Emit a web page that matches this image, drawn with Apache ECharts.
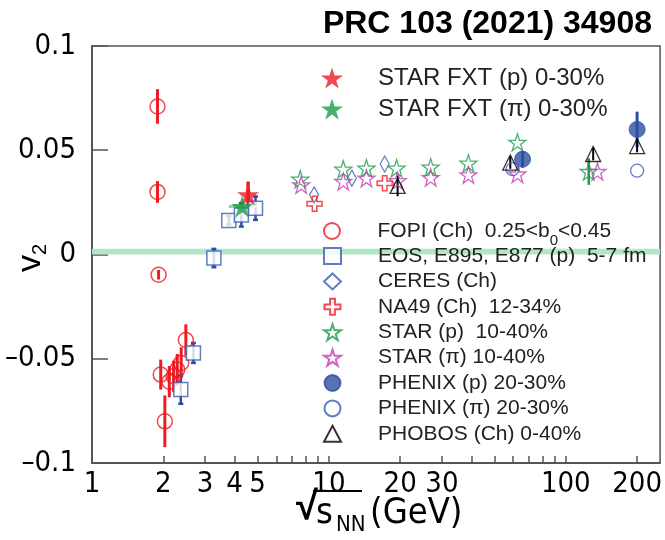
<!DOCTYPE html>
<html><head><meta charset="utf-8">
<script src="https://cdn.jsdelivr.net/npm/echarts@6/dist/echarts.min.js"></script>
<style>html,body{margin:0;padding:0;background:#fff}#c{width:665px;height:540px}</style>
</head><body><div id="c"></div>
<script>
// ---- axis ticks ----
const xTickLabels = [1, 2, 3, 4, 5, 10, 20, 30, 100, 200];
const xTickMarks = [1, 2, 3, 4, 5, 6, 7, 8, 9, 10, 20, 30, 40, 50, 60, 70, 80, 90, 100, 200];
const yTickValues = [-0.1, -0.05, 0, 0.05, 0.1];
const zeroBand = [0, 0.0028];

// ---- data ----
const fopiE   = [1.89, 1.89, 1.91, 1.95, 2.03, 2.12, 2.21, 2.29, 2.38, 2.49];
const fopiV   = [0.071, 0.030, -0.0097, -0.0576, -0.080, -0.061, -0.0584, -0.0552, -0.052, -0.041];
const fopiErr = [0.0083, 0.0052, 0.0023, 0.0072, 0.0124, 0.0075, 0.0075, 0.0075, 0.0075, 0.0075];

const eosE   = [2.37, 2.68, 3.27, 3.78, 4.27, 4.9];
const eosV   = [-0.0648, -0.0472, -0.0017, 0.0163, 0.019, 0.0222];
const eosErr = [0.0068, 0.0048, 0.0044, 0.002, 0.0056, 0.0056];

const ceresE = [8.66, 12.5, 17.2];
const ceresV = [0.0286, 0.0366, 0.0434];

const na49E = [8.7, 17.2];
const na49V = [0.0243, 0.0342];

const starPE   = [7.57, 11.5, 14.4, 19.3, 26.9, 38.8, 62.5, 125];
const starPV   = [0.0361, 0.0409, 0.0414, 0.0414, 0.0419, 0.0438, 0.0538, 0.0398];
const starPErr = [0, 0, 0, 0, 0, 0, 0, 0.0064];

const starPiE = [7.64, 11.5, 14.4, 19.5, 26.9, 38.8, 62.5, 136];
const starPiV = [0.0334, 0.035, 0.0366, 0.0354, 0.0369, 0.0382, 0.0386, 0.0398];

const phenixPE   = [65.7, 200];
const phenixPV   = [0.0457, 0.060];
const phenixPErr = [0.004, 0.0085];

const phenixPiE = [59.6, 200];
const phenixPiV = [0.0409, 0.0402];

const phobosE   = [19.5, 58.3, 130.5, 200];
const phobosV   = [0.0329, 0.0441, 0.0482, 0.052];
const phobosErr = [0.005, 0.003, 0.003, 0.003];

const fxtPE   = [4.56];
const fxtPV   = [0.0286];
const fxtPErr = [0.0064];

const fxtPiE = [4.3];
const fxtPiV = [0.023];
const fxtPiXRange = [3.78, 4.97];

// ---- styling ----
const RED = '#ee1c25', BLUE = '#2d4fa3', GREEN = '#1a9c48', MAG = '#c23cb6', BLACK = '#000';
const NARROW = "'Liberation Sans Narrow', 'DejaVu Sans Condensed', sans-serif";
const SANS = "'Liberation Sans', Arial, sans-serif";
const STAR = 'path://M50,0 L61.2,34.5 L97.6,34.5 L68.2,55.9 L79.4,90.5 L50,69.1 L20.6,90.5 L31.8,55.9 L2.4,34.5 L38.8,34.5 Z';
const PLUS = 'path://M35,0 H65 V35 H100 V65 H65 V100 H35 V65 H0 V35 H35 Z';
const CLEAR = 'rgba(255,255,255,0)';

const zip = (a, b, c) => a.map((v, i) => c ? [v, b[i], c[i]] : [v, b[i]]);

function errBar(color, w, cap) {
  return function (params, api) {
    const x = api.value(0), y = api.value(1), e = api.value(2);
    if (!e) return null;
    const p1 = api.coord([x, y - e]), p2 = api.coord([x, y + e]);
    const ch = [{ type: 'line', shape: { x1: p1[0], y1: p1[1], x2: p2[0], y2: p2[1] }, style: { stroke: color, lineWidth: w } }];
    if (cap) {
      ch.push({ type: 'line', shape: { x1: p1[0] - cap, y1: p1[1], x2: p1[0] + cap, y2: p1[1] }, style: { stroke: color, lineWidth: w } });
      ch.push({ type: 'line', shape: { x1: p2[0] - cap, y1: p2[1], x2: p2[0] + cap, y2: p2[1] }, style: { stroke: color, lineWidth: w } });
    }
    return { type: 'group', children: ch };
  };
}
function errSeries(name, color, w, cap, data) {
  return { name: name, type: 'custom', renderItem: errBar(color, w, cap), data: data, z: 1, silent: true, encode: { x: 0, y: 1 } };
}
function scatter(name, data, symbol, size, fill, stroke, bw, z) {
  return { name: name, type: 'scatter', data: data, symbol: symbol, symbolSize: size, z: z || 3,
    itemStyle: { color: fill, borderColor: stroke, borderWidth: bw }, emphasis: { disabled: true } };
}

const N = {
  fopi: 'FOPI (Ch)  0.25<b0<0.45',
  eos: 'EOS, E895, E877 (p)  5-7 fm',
  ceres: 'CERES (Ch)',
  na49: 'NA49 (Ch)  12-34%',
  starP: 'STAR (p)  10-40%',
  starPi: 'STAR (π) 10-40%',
  phenixP: 'PHENIX (p) 20-30%',
  phenixPi: 'PHENIX (π) 20-30%',
  phobos: 'PHOBOS (Ch) 0-40%',
  fxtP: 'STAR FXT (p) 0-30%',
  fxtPi: 'STAR FXT (π) 0-30%'
};

const chart = echarts.init(document.getElementById('c'), null, { renderer: 'canvas' });

const series = [
  errSeries('e_fopi', RED, 3, 0, zip(fopiE, fopiV, fopiErr)),
  errSeries('e_eos', BLUE, 2.5, 2.5, zip(eosE, eosV, eosErr)),
  errSeries('e_starp', GREEN, 2.5, 0, zip(starPE, starPV, starPErr)),
  errSeries('e_phenix', BLUE, 3, 0, zip(phenixPE, phenixPV, phenixPErr)),
  errSeries('e_phobos', BLACK, 2, 0, zip(phobosE, phobosV, phobosErr)),
  errSeries('e_fxtp', RED, 3.5, 0, zip(fxtPE, fxtPV, fxtPErr)),
  {
    name: 'x_fxtpi', type: 'custom', silent: true, z: 1, data: [[fxtPiXRange[0], fxtPiXRange[1], fxtPiV[0]]],
    encode: { x: [0, 1], y: 2 },
    renderItem: function (params, api) {
      const a = api.coord([api.value(0), api.value(2)]), b = api.coord([api.value(1), api.value(2)]);
      return { type: 'line', shape: { x1: a[0], y1: a[1], x2: b[0], y2: b[1] }, style: { stroke: '#8fd4a4', lineWidth: 3 } };
    }
  },
  Object.assign(scatter(N.fopi, zip(fopiE, fopiV), 'circle', 15, CLEAR, RED, 1.5), {
    markArea: { silent: true, itemStyle: { color: '#b3e6c9' }, data: [[{ yAxis: zeroBand[0] }, { yAxis: zeroBand[1] }]] }
  }),
  scatter(N.eos, zip(eosE, eosV), 'rect', 14, '#fff', '#3a5cb3', 1.5),
  scatter(N.ceres, zip(ceresE, ceresV), 'diamond', [9, 16], CLEAR, '#3a5cb3', 1.3),
  scatter(N.na49, zip(na49E, na49V), PLUS, 15, CLEAR, RED, 1.5),
  scatter(N.starP, zip(starPE, starPV), STAR, 17, CLEAR, GREEN, 1.3),
  scatter(N.starPi, zip(starPiE, starPiV), STAR, 17, CLEAR, MAG, 1.3),
  scatter(N.phenixP, zip(phenixPE, phenixPV), 'circle', 16, BLUE, BLUE, 1),
  scatter(N.phenixPi, zip(phenixPiE, phenixPiV), 'circle', 13, CLEAR, '#3a5cb3', 1.3),
  scatter(N.phobos, zip(phobosE, phobosV), 'triangle', 15, CLEAR, BLACK, 1.3),
  scatter(N.fxtP, zip(fxtPE, fxtPV), STAR, 22, RED, RED, 0, 5),
  scatter(N.fxtPi, zip(fxtPiE, fxtPiV), STAR, 22, GREEN, GREEN, 0, 5)
];

const lowerText = { fontFamily: SANS, fontSize: 21, color: '#222', lineHeight: 22, padding: [0, 0, 0, 32] };

const option = {
  animation: false,
  backgroundColor: '#fff',
  title: {
    text: 'PRC 103 (2021) 34908', right: 8, top: 3,
    textStyle: { fontFamily: SANS, fontSize: 32, fontWeight: 'bold', color: '#000' }
  },
  grid: { left: 92, right: 3, top: 46, bottom: 77, show: true, borderColor: '#555', borderWidth: 1.5, containLabel: false },
  xAxis: {
    type: 'log', min: 1, max: 250, logBase: 10,
    axisLine: { show: true, onZero: false, lineStyle: { color: '#555', width: 2 } },
    axisTick: { show: true, inside: true, length: 7, customValues: xTickMarks, lineStyle: { color: '#555', width: 1.5 } },
    minorTick: { show: false },
    axisLabel: { customValues: xTickLabels, fontFamily: NARROW, fontSize: 29, color: '#000', margin: 7,
      formatter: v => String(Math.round(v)) },
    splitLine: { show: false }
  },
  yAxis: {
    type: 'value', min: -0.1, max: 0.1, interval: 0.05,
    axisLine: { show: true, onZero: false, lineStyle: { color: '#555', width: 2 } },
    axisTick: { show: true, inside: true, length: 16, customValues: yTickValues, lineStyle: { color: '#555', width: 1.5 } },
    axisLabel: { customValues: yTickValues, fontFamily: NARROW, fontSize: 29, color: '#000', margin: 16,
      formatter: v => (v < 0 ? '\u2013' : '') + String(Math.round(Math.abs(v) * 100) / 100) },
    splitLine: { show: false }
  },
  legend: [
    {
      data: [N.fxtP, N.fxtPi], orient: 'vertical', left: 321, top: 66, padding: 0,
      itemWidth: 22, itemHeight: 22, itemGap: 7,
      textStyle: { fontFamily: SANS, fontSize: 24, color: '#222', lineHeight: 22, padding: [0, 0, 0, 30] },
      selectedMode: false
    },
    {
      data: [N.fopi], orient: 'vertical', left: 323, top: 220, padding: 0,
      itemWidth: 17, itemHeight: 16,
      textStyle: Object.assign({}, lowerText, {
        rich: { a: { fontFamily: SANS, fontSize: 21, color: '#222', lineHeight: 22 },
                s: { fontFamily: SANS, fontSize: 15, color: '#222', lineHeight: 22, verticalAlign: 'top', padding: [13, 0, 0, 0] } } }),
      formatter: function () { return '{a|FOPI (Ch)  0.25<b}{s|0}{a|<0.45}'; },
      selectedMode: false
    },
    {
      data: [N.eos, N.ceres, N.na49, N.starP, N.starPi, N.phenixP, N.phenixPi, N.phobos],
      orient: 'vertical', left: 323, top: 245, padding: 0,
      itemWidth: 17, itemHeight: 16, itemGap: 3.4,
      textStyle: lowerText,
      selectedMode: false
    }
  ],
  graphic: [
    {
      type: 'text', x: 31, y: 258, rotation: Math.PI / 2,
      style: { text: '{v|v}{s|2}', textAlign: 'center', textVerticalAlign: 'middle',
        rich: { v: { fontFamily: SANS, fontSize: 34, fill: '#000', lineHeight: 34 },
                s: { fontFamily: SANS, fontSize: 20, fill: '#000', lineHeight: 34, verticalAlign: 'top', padding: [16, 0, 0, 0] } } }
    },
    {
      type: 'group', x: 0, y: 0,
      children: [
        { type: 'text', x: 296, y: 488, style: { text: '\u221A', fontFamily: SANS, fontSize: 40, fill: '#000', fontWeight: 'bold' } },
        { type: 'line', shape: { x1: 313, y1: 491, x2: 362, y2: 491 }, style: { stroke: '#000', lineWidth: 2 } },
        { type: 'text', x: 316, y: 496, style: { text: 's', fontFamily: NARROW, fontSize: 36, fill: '#000' } },
        { type: 'text', x: 336, y: 514, style: { text: 'NN', fontFamily: NARROW, fontSize: 22, fill: '#000' } },
        { type: 'text', x: 370, y: 496, style: { text: '(GeV)', fontFamily: NARROW, fontSize: 36, fill: '#000' } }
      ]
    }
  ],
  series: series
};
chart.setOption(option);
</script>
</body></html>
